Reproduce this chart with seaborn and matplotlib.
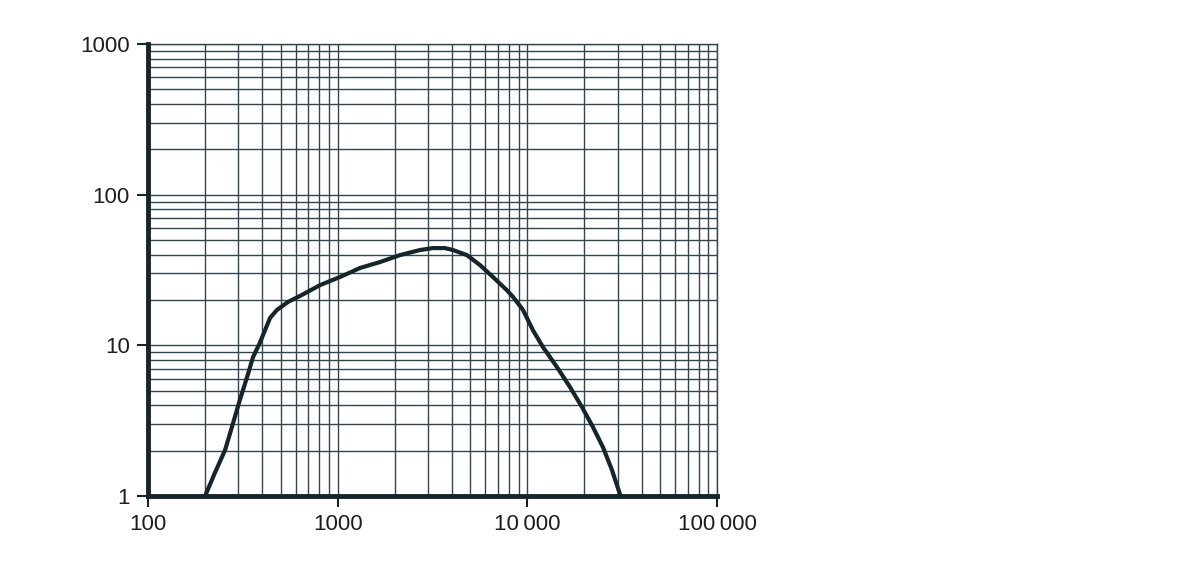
import matplotlib
matplotlib.use("Agg")
import matplotlib.pyplot as plt
import numpy as np
import pandas as pd
import seaborn as sns
from matplotlib.ticker import FixedLocator, LogLocator, NullFormatter

# curve (log-log)
FREQ = [200, 225, 255, 281, 305, 333, 358, 389, 414, 440, 479, 547, 648,
        807, 1028, 1311, 1671, 2130, 2716, 3180, 3678, 4053, 4805, 5626,
        6588, 7806, 8395, 9480, 10704, 12085, 14322, 16775, 19400, 22172,
        25033, 27925, 31000]
VALUE = [1.0, 1.42, 2.02, 3.05, 4.34, 6.16, 8.36, 10.4, 12.6, 15.2, 17.2,
         19.4, 21.6, 25.1, 28.4, 32.6, 35.7, 39.7, 42.9, 44.2, 44.2, 42.9,
         39.7, 34.1, 28.4, 23.2, 21.0, 17.2, 12.6, 9.74, 7.18, 5.29, 3.90,
         2.87, 2.11, 1.49, 1.0]

X_TICKS = [100, 1000, 10000, 100000]
X_LABELS = ["100", "1000", "10\u2009000", "100\u2009000"]
Y_TICKS = [1, 10, 100, 1000]
Y_LABELS = ["1", "10", "100", "1000"]

INK = "#16252b"
GRID = "#34464d"

sns.set_theme(style="white")
plt.rcParams["font.family"] = ["Liberation Sans", "DejaVu Sans"]

df = pd.DataFrame({"f": FREQ, "v": VALUE})

fig = plt.figure(figsize=(11.99, 5.62), dpi=100)
ax = fig.add_axes([148 / 1199, 66 / 562, 569 / 1199, 452 / 562])

ax.set_xscale("log")
ax.set_yscale("log")
ax.set_xlim(100, 100000)
ax.set_ylim(1, 1000)

sns.lineplot(data=df, x="f", y="v", ax=ax, color=INK, linewidth=3.0,
             solid_joinstyle="round", solid_capstyle="round", zorder=5)

ax.xaxis.set_major_locator(FixedLocator(X_TICKS))
ax.yaxis.set_major_locator(FixedLocator(Y_TICKS))
ax.set_xticklabels(X_LABELS)
ax.set_yticklabels(Y_LABELS)
ax.xaxis.set_minor_locator(LogLocator(base=10, subs=np.arange(2, 10)))
ax.yaxis.set_minor_locator(LogLocator(base=10, subs=np.arange(2, 10)))
ax.xaxis.set_minor_formatter(NullFormatter())
ax.yaxis.set_minor_formatter(NullFormatter())

ax.grid(True, which="both", color=GRID, linewidth=1.0)
ax.tick_params(axis="both", which="major", direction="out", length=8,
               width=1.5, color=INK, labelsize=16, labelcolor="#1e1e1e",
               pad=5, bottom=True, left=True)
ax.tick_params(axis="both", which="minor", length=0)

ax.set_xlabel("")
ax.set_ylabel("")

for side in ["left", "bottom"]:
    ax.spines[side].set_linewidth(3.5)
    ax.spines[side].set_color(INK)
    ax.spines[side].set_zorder(6)
for side in ["top", "right"]:
    ax.spines[side].set_linewidth(1.0)
    ax.spines[side].set_color(GRID)

fig.savefig("out.png", dpi=100, facecolor="white")
